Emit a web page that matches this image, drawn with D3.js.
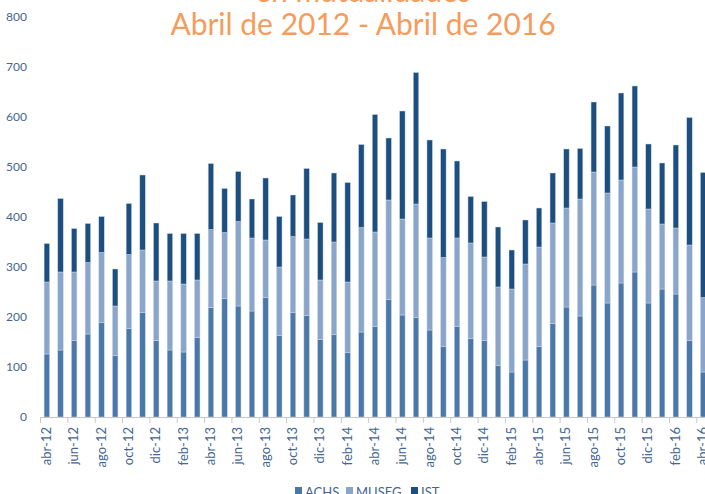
<!DOCTYPE html>
<html>
<head>
<meta charset="utf-8">
<script src="https://cdn.jsdelivr.net/npm/d3@7"></script>
<style>
  body { margin: 0; background: #fff; }
  svg { display: block; font-family: Lato, 'Open Sans', sans-serif; }
</style>
</head>
<body>
<svg id="chart"></svg>
<script>
const months = ['abr-12','may-12','jun-12','jul-12','ago-12','sep-12','oct-12','nov-12','dic-12',
  'ene-13','feb-13','mar-13','abr-13','may-13','jun-13','jul-13','ago-13','sep-13','oct-13','nov-13','dic-13',
  'ene-14','feb-14','mar-14','abr-14','may-14','jun-14','jul-14','ago-14','sep-14','oct-14','nov-14','dic-14',
  'ene-15','feb-15','mar-15','abr-15','may-15','jun-15','jul-15','ago-15','sep-15','oct-15','nov-15','dic-15',
  'ene-16','feb-16','mar-16','abr-16']

// ACHS values
const achs = [126,134,153,166,189,123,177,209,153,134,130,159,219,237,222,212,239,163,209,203,155,165,129,170,
  181,235,204,199,174,141,181,157,153,103,90,114,141,187,220,202,264,228,268,290,228,256,246,153,90]
// MUSEG cumulative top, turned into values below
const musegTop = [270,290,290,309,329,222,325,334,272,272,266,274,375,369,391,358,354,300,361,356,274,350,270,379,
  370,434,396,426,358,319,358,348,320,260,256,306,340,388,418,436,490,448,474,500,416,386,378,344,239]
const totals = [347,437,377,387,401,296,427,484,388,367,367,367,507,457,491,436,478,401,444,497,389,488,469,545,
  605,558,612,689,554,536,512,441,431,380,334,394,418,488,536,537,630,582,648,662,546,508,544,599,489]

const museg = musegTop.map((t, i) => t - achs[i])
const ist = totals.map((t, i) => t - musegTop[i])

const series = ['ACHS', 'MUSEG', 'IST']
const colors = ['#4a78a8', '#8aa5ca', '#1c4f80']
const yTicks = [0, 100, 200, 300, 400, 500, 600, 700, 800]

const width = 705
const height = 494

const svg = d3.select('#chart')
  .attr('width', width)
  .attr('height', height)

const rows = months.map((m, i) => ({ month: m, ACHS: achs[i], MUSEG: museg[i], IST: ist[i] }))
const stacked = d3.stack().keys(series)(rows)

const x = d3.scaleBand()
  .domain(months)
  .range([40, 710])
  .paddingInner(0.6)
  .paddingOuter(0.3)

const y = d3.scaleLinear()
  .domain([0, 800])
  .range([417, 17])

const color = d3.scaleOrdinal().domain(series).range(colors)

// title (first line is cut at the top of the picture)
const title = svg.append('g')
  .attr('fill', '#f79b5c')
  .attr('text-anchor', 'middle')
  .attr('font-size', '30px')
title.append('text').attr('x', 363).attr('y', 2).text('en mutualidades')
title.append('text').attr('x', 363).attr('y', 35).text('Abril de 2012 - Abril de 2016')

// bars
svg.append('g')
  .selectAll('g')
  .data(stacked)
  .enter()
  .append('g')
  .attr('fill', d => color(d.key))
  .selectAll('rect')
  .data(d => d)
  .enter()
  .append('rect')
  .attr('x', d => x(d.data.month))
  .attr('y', d => y(d[1]))
  .attr('width', x.bandwidth())
  .attr('height', d => y(d[0]) - y(d[1]))
  .attr('stroke', '#c9d6e6')
  .attr('stroke-width', 0.5)

// y axis labels
svg.append('g')
  .selectAll('text')
  .data(yTicks)
  .enter()
  .append('text')
  .attr('x', 27)
  .attr('y', d => y(d) + 4)
  .attr('text-anchor', 'end')
  .attr('font-size', '12px')
  .attr('fill', '#44668f')
  .text(d => d)

// x axis
const step = x.step()
const x0 = x.range()[0]
svg.append('line')
  .attr('x1', x0).attr('x2', width)
  .attr('y1', 417.5).attr('y2', 417.5)
  .attr('stroke', '#c8c8c8')

const tickIdx = d3.range(0, months.length, 2)
svg.append('g')
  .selectAll('line')
  .data(tickIdx)
  .enter()
  .append('line')
  .attr('x1', i => x0 + i * step + 0.5)
  .attr('x2', i => x0 + i * step + 0.5)
  .attr('y1', 417)
  .attr('y2', 423)
  .attr('stroke', '#c8c8c8')

svg.append('g')
  .selectAll('text')
  .data(tickIdx)
  .enter()
  .append('text')
  .attr('transform', i => `translate(${x(months[i]) + x.bandwidth() / 2 + 4},427) rotate(-90)`)
  .attr('text-anchor', 'end')
  .attr('font-size', '13px')
  .attr('fill', '#44668f')
  .text(i => months[i])

// legend
const legendX = [295, 346, 411]
const legend = svg.append('g')
  .selectAll('g')
  .data(series)
  .enter()
  .append('g')
  .attr('transform', (d, i) => `translate(${legendX[i]},487)`)
legend.append('rect')
  .attr('width', 7).attr('height', 7)
  .attr('fill', d => color(d))
legend.append('text')
  .attr('x', 10).attr('y', 10)
  .attr('font-size', '13px')
  .attr('fill', '#44668f')
  .text(d => d)
</script>
</body>
</html>
